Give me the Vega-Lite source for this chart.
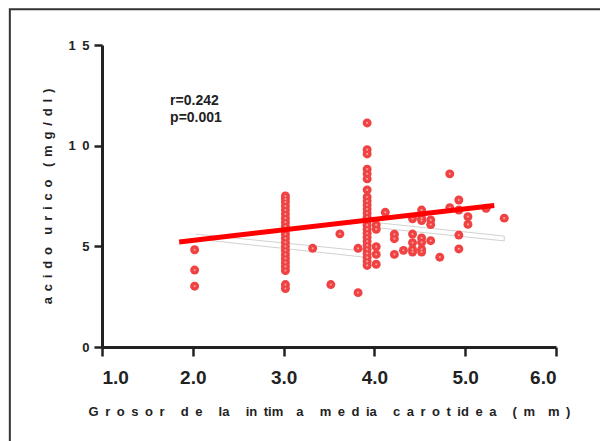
{
  "$schema": "https://vega.github.io/schema/vega-lite/v6.json",
  "width": 454,
  "height": 302,
  "autosize": {"type": "none"},
  "padding": {"left": 102, "top": 45, "right": 44, "bottom": 94},
  "background": "white",
  "config": {
    "view": {"stroke": null},
    "font": "Liberation Sans",
    "axis": {
      "grid": false,
      "domainColor": "#222222",
      "domainWidth": 3,
      "tickColor": "#222222",
      "tickWidth": 2.5,
      "labelFont": "Liberation Sans",
      "labelFontWeight": "bold",
      "labelColor": "#222222",
      "titleFont": "Liberation Sans",
      "titleFontWeight": "bold",
      "titleColor": "#222222"
    }
  },
  "datasets": {
    "pts": [
      {"grosor": 2.02, "acido": 4.83}, {"grosor": 2.02, "acido": 3.82}, {"grosor": 2.02, "acido": 3.02},
      {"grosor": 3.02, "acido": 7.5}, {"grosor": 3.02, "acido": 7.35}, {"grosor": 3.02, "acido": 7.2},
      {"grosor": 3.02, "acido": 7.0}, {"grosor": 3.02, "acido": 6.8}, {"grosor": 3.02, "acido": 6.6},
      {"grosor": 3.02, "acido": 6.4}, {"grosor": 3.02, "acido": 6.2}, {"grosor": 3.02, "acido": 6.0},
      {"grosor": 3.02, "acido": 5.8}, {"grosor": 3.02, "acido": 5.6}, {"grosor": 3.02, "acido": 5.4},
      {"grosor": 3.02, "acido": 5.2}, {"grosor": 3.02, "acido": 5.0}, {"grosor": 3.02, "acido": 4.8},
      {"grosor": 3.02, "acido": 4.6}, {"grosor": 3.02, "acido": 4.4}, {"grosor": 3.02, "acido": 4.2},
      {"grosor": 3.02, "acido": 4.0}, {"grosor": 3.02, "acido": 3.8}, {"grosor": 3.02, "acido": 3.1},
      {"grosor": 3.02, "acido": 2.9},
      {"grosor": 3.92, "acido": 11.13}, {"grosor": 3.92, "acido": 9.8}, {"grosor": 3.92, "acido": 9.59},
      {"grosor": 3.92, "acido": 8.83}, {"grosor": 3.92, "acido": 8.6}, {"grosor": 3.92, "acido": 8.35},
      {"grosor": 3.92, "acido": 7.8}, {"grosor": 3.92, "acido": 7.45}, {"grosor": 3.92, "acido": 7.25},
      {"grosor": 3.92, "acido": 7.05}, {"grosor": 3.92, "acido": 6.85}, {"grosor": 3.92, "acido": 6.65},
      {"grosor": 3.92, "acido": 6.45}, {"grosor": 3.92, "acido": 6.25}, {"grosor": 3.92, "acido": 6.05},
      {"grosor": 3.92, "acido": 5.85}, {"grosor": 3.92, "acido": 5.65}, {"grosor": 3.92, "acido": 5.45},
      {"grosor": 3.92, "acido": 5.25}, {"grosor": 3.92, "acido": 5.05}, {"grosor": 3.92, "acido": 4.85},
      {"grosor": 3.92, "acido": 4.65}, {"grosor": 3.92, "acido": 4.45}, {"grosor": 3.92, "acido": 4.25},
      {"grosor": 3.92, "acido": 4.05},
      {"grosor": 3.32, "acido": 4.9}, {"grosor": 3.62, "acido": 5.62}, {"grosor": 3.52, "acido": 3.1},
      {"grosor": 3.82, "acido": 4.9}, {"grosor": 3.82, "acido": 2.7},
      {"grosor": 4.02, "acido": 6.06}, {"grosor": 4.02, "acido": 5.85}, {"grosor": 4.02, "acido": 4.98},
      {"grosor": 4.02, "acido": 4.6}, {"grosor": 4.02, "acido": 4.11},
      {"grosor": 4.12, "acido": 6.69},
      {"grosor": 4.22, "acido": 5.6}, {"grosor": 4.22, "acido": 5.38}, {"grosor": 4.22, "acido": 4.6},
      {"grosor": 4.32, "acido": 4.8},
      {"grosor": 4.42, "acido": 6.37}, {"grosor": 4.42, "acido": 5.61}, {"grosor": 4.42, "acido": 5.18},
      {"grosor": 4.42, "acido": 4.85}, {"grosor": 4.42, "acido": 4.72},
      {"grosor": 4.52, "acido": 6.8}, {"grosor": 4.52, "acido": 6.4}, {"grosor": 4.52, "acido": 6.28},
      {"grosor": 4.52, "acido": 5.42}, {"grosor": 4.52, "acido": 5.2}, {"grosor": 4.52, "acido": 4.85},
      {"grosor": 4.52, "acido": 4.72},
      {"grosor": 4.62, "acido": 6.31}, {"grosor": 4.62, "acido": 6.08}, {"grosor": 4.62, "acido": 5.28},
      {"grosor": 4.72, "acido": 4.46},
      {"grosor": 4.83, "acido": 8.6}, {"grosor": 4.83, "acido": 6.92},
      {"grosor": 4.93, "acido": 7.3}, {"grosor": 4.93, "acido": 6.8}, {"grosor": 4.93, "acido": 5.56},
      {"grosor": 4.93, "acido": 4.87},
      {"grosor": 5.03, "acido": 6.47}, {"grosor": 5.03, "acido": 6.09},
      {"grosor": 5.23, "acido": 6.89},
      {"grosor": 5.43, "acido": 6.4}
    ],
    "fit": [
      {"grosor": 1.85, "acido": 5.22},
      {"grosor": 5.32, "acido": 7.03}
    ],
    "band": [
      {"seg": "a", "k": 1, "grosor": 2.025, "acido": 5.61},
      {"seg": "a", "k": 2, "grosor": 3.876, "acido": 4.77},
      {"seg": "b", "k": 1, "grosor": 2.025, "acido": 5.37},
      {"seg": "b", "k": 2, "grosor": 3.876, "acido": 4.47},
      {"seg": "c", "k": 1, "grosor": 4.06, "acido": 6.16},
      {"seg": "c", "k": 2, "grosor": 5.43, "acido": 5.51},
      {"seg": "c", "k": 3, "grosor": 5.43, "acido": 5.27},
      {"seg": "c", "k": 4, "grosor": 4.06, "acido": 5.91}
    ]
  },
  "layer": [
    {
      "data": {"values": [{}]},
      "mark": {"type": "rect", "filled": false, "fill": null, "stroke": "#333333", "strokeWidth": 2, "clip": false},
      "encoding": {
        "x": {"datum": -0.015, "type": "quantitative", "scale": {"domain": [1, 6]}},
        "x2": {"datum": 8},
        "y": {"datum": 16.78, "type": "quantitative", "scale": {"domain": [0, 15]}},
        "y2": {"datum": -8}
      }
    },
    {
      "data": {"name": "band"},
      "mark": {"type": "line", "stroke": "#cccccc", "strokeWidth": 0.9},
      "encoding": {
        "x": {"field": "grosor", "type": "quantitative"},
        "y": {"field": "acido", "type": "quantitative"},
        "detail": {"field": "seg"},
        "order": {"field": "k"}
      }
    },
    {
      "data": {"name": "pts"},
      "mark": {"type": "point", "shape": "circle", "filled": true, "size": 80, "color": "#f04242", "opacity": 1},
      "encoding": {
        "x": {
          "field": "grosor", "type": "quantitative",
          "scale": {"domain": [1, 6], "nice": false, "zero": false},
          "axis": {
            "values": [1, 2, 3, 4, 5, 6],
            "format": ".1f",
            "labelFontSize": 19,
            "tickSize": 9,
            "labelPadding": 12,
            "title": "G\u2002r\u2002o\u2002s\u2002o\u2002r\u2003\u2005d\u2002e\u2003\u2005la\u2003\u2005in\u2002tim\u2002\u2002a\u2003\u2005m\u2002e\u2002d\u2002ia\u2003\u2005c\u2002a\u2002r\u2002o\u2002t\u2002id\u2002e\u2002a\u2003\u2005(\u2002m\u2002\u2002m\u2002)",
            "titleFontSize": 13,
            "titleX": 227,
            "titleY": 64,
            "titleAlign": "center",
            "titleBaseline": "middle"
          }
        },
        "y": {
          "field": "acido", "type": "quantitative",
          "scale": {"domain": [0, 15], "nice": false, "zero": true},
          "axis": {
            "values": [0, 5, 10, 15],
            "labelExpr": "datum.value == 15 ? '1\u20025' : datum.value == 10 ? '1\u20020' : datum.label",
            "labelFontSize": 13,
            "tickSize": 8,
            "labelPadding": 5,
            "title": "a\u2005\u2009c\u2005\u2009i\u2005\u2009d\u2005\u2009o\u2002\u2005\u2009u\u2005\u2009r\u2005\u2009i\u2005\u2009c\u2005\u2009o\u2002\u2005\u2009(\u2005\u2009m\u2005\u2009g\u2005\u2009/\u2005\u2009d\u2005\u2009l\u2005\u2009)",
            "titleFontSize": 13,
            "titleAngle": -90,
            "titleX": -55,
            "titleY": 151,
            "titleAlign": "center",
            "titleBaseline": "middle"
          }
        }
      }
    },
    {
      "data": {"name": "pts"},
      "mark": {"type": "point", "shape": "circle", "filled": true, "size": 5, "color": "#f79a9a", "opacity": 1},
      "encoding": {
        "x": {"field": "grosor", "type": "quantitative"},
        "y": {"field": "acido", "type": "quantitative"}
      }
    },
    {
      "data": {"name": "fit"},
      "mark": {"type": "line", "stroke": "#ff0000", "strokeWidth": 5, "strokeCap": "butt"},
      "encoding": {
        "x": {"field": "grosor", "type": "quantitative"},
        "y": {"field": "acido", "type": "quantitative"}
      }
    },
    {
      "data": {"values": [{}]},
      "mark": {"type": "text", "align": "left", "baseline": "top", "fontSize": 14, "fontWeight": "bold", "color": "#222222", "lineHeight": 17, "font": "Liberation Sans"},
      "encoding": {
        "x": {"datum": 1.75, "type": "quantitative"},
        "y": {"datum": 12.57, "type": "quantitative"},
        "text": {"value": ["r=0.242", "p=0.001"]}
      }
    }
  ]
}
